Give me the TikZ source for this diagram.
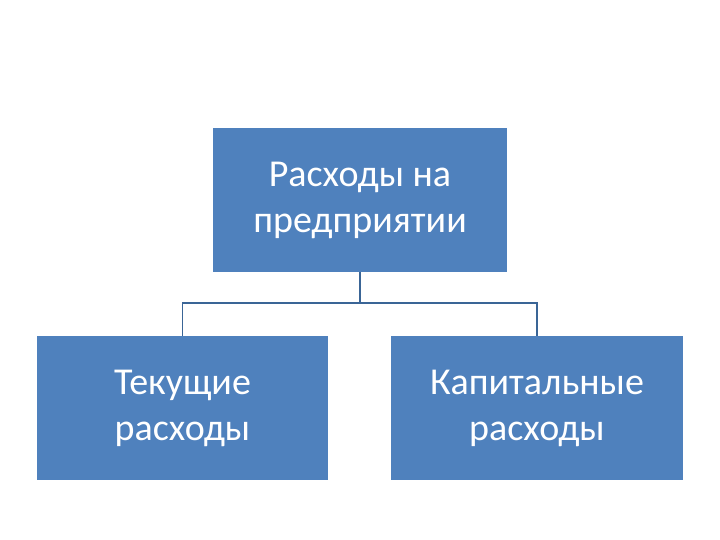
\documentclass[tikz,border=0pt]{standalone}
\usepackage{fontspec}
\setmainfont{Carlito}
\definecolor{boxblue}{HTML}{4F81BD}
\definecolor{lineblue}{HTML}{3A6596}
\begin{document}
\begin{tikzpicture}[x=1pt,y=-1pt,
  box/.style={fill=boxblue,draw=none,text=white,align=center,font=\fontsize{38}{46}\selectfont,inner sep=0pt},
  conn/.style={draw=lineblue,line width=1.2pt}]
\useasboundingbox (0,0) rectangle (720,540);
\node[box,minimum width=294pt,minimum height=144pt] (top) at (360,200) {Расходы на\\предприятии};
\node[box,minimum width=291pt,minimum height=144pt] (left) at (182.5,408) {Текущие\\расходы};
\node[box,minimum width=292pt,minimum height=144pt] (right) at (537,408) {Капитальные\\расходы};
\coordinate (mid) at (360,303);
\draw[conn] (top.south) -- (mid);
\draw[conn] (left.north) |- (mid) -| (right.north);
\end{tikzpicture}
\end{document}
